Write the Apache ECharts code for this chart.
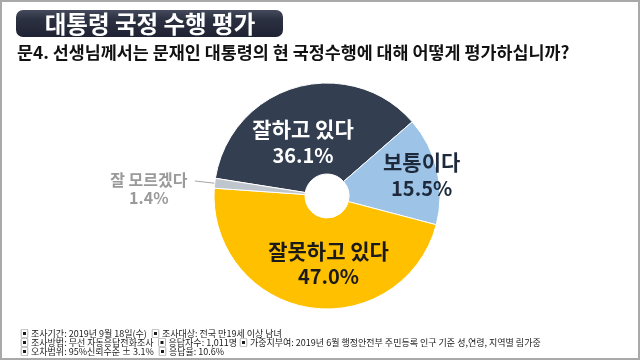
<!DOCTYPE html>
<html>
<head>
<meta charset="utf-8">
<script src="https://cdn.jsdelivr.net/npm/echarts@6/dist/echarts.min.js"></script>
<style>
html,body{margin:0;padding:0;background:#fff;}
#main{width:640px;height:360px;}
</style>
</head>
<body>
<div id="main"></div>
<script>
// ---- data ----
const categories = ['잘하고 있다', '보통이다', '잘못하고 있다', '잘 모르겠다'];
const values = [36.1, 15.5, 47.0, 1.4];
const titleText = '대통령 국정 수행 평가';
const questionText = '문4. 선생님께서는 문재인 대통령의 현 국정수행에 대해 어떻게 평가하십니까?';
const footerLines = [
  '▣ 조사기간: 2019년 9월 18일(수)  ▣ 조사대상: 전국 만19세 이상 남녀',
  '▣ 조사방법: 무선 자동응답전화조사  ▣ 응답자수: 1,011명 ▣ 가중치부여: 2019년 6월 행정안전부 주민등록 인구 기준 성,연령, 지역별 림가중',
  '▣ 오차범위: 95%신뢰수준 ± 3.1%  ▣ 응답율: 10.6%'
];

// ---- styles ----
const FONT = '"Noto Sans CJK KR", "Noto Sans", sans-serif';
const sliceColors = ['#333f50', '#9dc3e6', '#ffc000', '#bfc5cc'];
const labelColors = ['#ffffff', '#1e2a3c', '#1a1a1a', '#9a9a9a'];
const nameSizes = [21, 21, 21, 16];
const pctSizes = [20, 20, 20, 16];
const labelLineHeights = [26, 26, 25, 18];
const labelShift = [
  {dx: -4.5, dy: 14},
  {dx: 26, dy: -5},
  {dx: 13, dy: -2},
  {dx: -41, dy: 8, align: 'center'}
];

const chart = echarts.init(document.getElementById('main'), null, {renderer: 'canvas'});

const pieData = categories.map((name, i) => {
  const outside = i === 3;
  return {
    name: name,
    value: values[i],
    itemStyle: {color: sliceColors[i]},
    label: {
      show: true,
      position: outside ? 'outside' : 'inside',
      color: labelColors[i],
      lineHeight: labelLineHeights[i],
      fontWeight: 'bold',
      fontFamily: FONT,
      rich: {
        n: {fontSize: nameSizes[i], fontWeight: 'bold', fontFamily: FONT, color: labelColors[i], lineHeight: labelLineHeights[i]},
        p: {fontSize: pctSizes[i], fontWeight: 'bold', fontFamily: FONT, color: labelColors[i], lineHeight: labelLineHeights[i]}
      }
    },
    labelLine: outside ? {show: true, length: 20, length2: 0, lineStyle: {color: '#a6a6a6', width: 1}} : {show: false}
  };
});

const option = {
  backgroundColor: '#ffffff',
  animation: false,
  graphic: [
    {type: 'rect', shape: {x: 1, y: 1, width: 638, height: 358}, style: {fill: 'none', stroke: '#a9a9a9', lineWidth: 2}, z: 10},
    {type: 'rect', shape: {x: 16, y: 10, width: 267, height: 27, r: 7},
      style: {fill: new echarts.graphic.LinearGradient(0, 0, 0, 1, [
        {offset: 0, color: '#454a5c'}, {offset: 0.35, color: '#2c3142'}, {offset: 1, color: '#1f2232'}])}},
    {type: 'text', x: 150, y: 24, style: {text: titleText, fill: '#ffffff', font: 'bold 23.5px ' + FONT, align: 'center', verticalAlign: 'middle'}},
    {type: 'text', x: 17, y: 52, style: {text: questionText, fill: '#111111', font: 'bold 17.4px ' + FONT, align: 'left', verticalAlign: 'middle'}},
    {type: 'text', x: 20, y: 342.5, style: {text: footerLines.join('\n'), fill: '#1a1a1a', font: '9px ' + FONT, lineHeight: 9, align: 'left', verticalAlign: 'middle'}}
  ],
  series: [{
    type: 'pie',
    center: [327, 196],
    radius: [22, 113],
    startAngle: 171,
    clockwise: true,
    avoidLabelOverlap: false,
    itemStyle: {borderColor: '#ffffff', borderWidth: 1},
    label: {
      formatter: p => '{n|' + p.name + '}\n{p|' + p.value.toFixed(1) + '%}'
    },
    labelLayout: function (params) {
      return labelShift[params.dataIndex];
    },
    emphasis: {disabled: true},
    data: pieData
  }]
};
chart.setOption(option);
</script>
</body>
</html>
